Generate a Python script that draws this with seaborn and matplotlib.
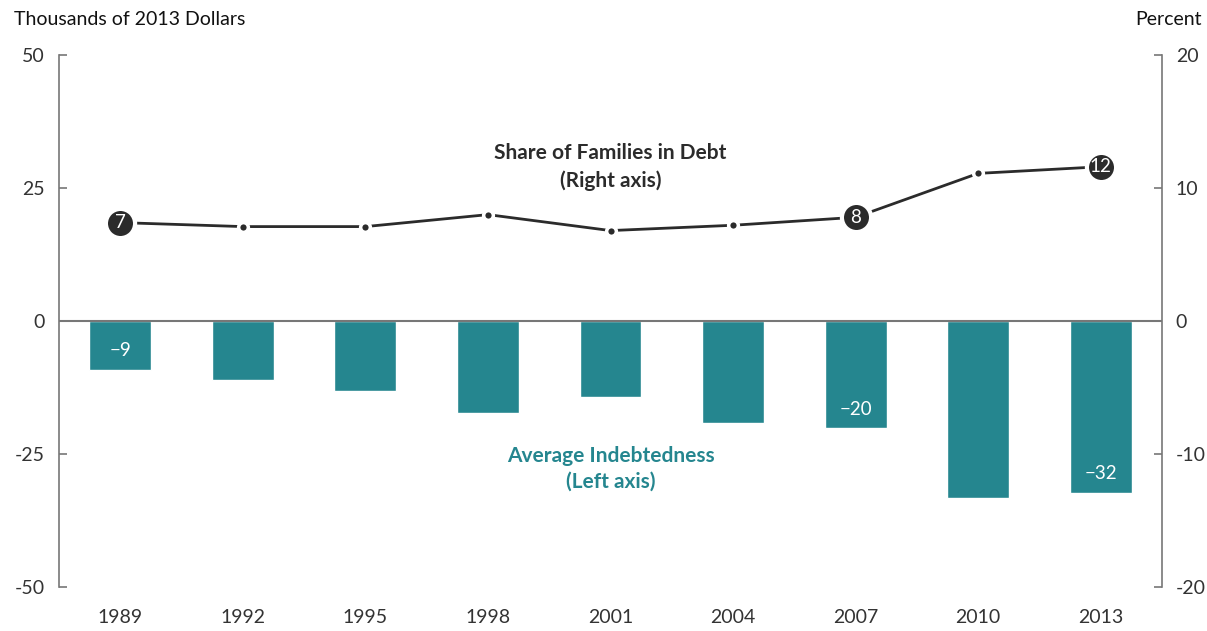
import numpy as np
import pandas as pd
import matplotlib
matplotlib.use("Agg")
import matplotlib.pyplot as plt
import seaborn as sns

# data
years = ['1989', '1992', '1995', '1998', '2001', '2004', '2007', '2010', '2013']
indebtedness = [-9.2, -11.1, -13.2, -17.2, -14.2, -19.2, -20.2, -33.2, -32.3]
share_in_debt = [7.4, 7.1, 7.1, 8.0, 6.8, 7.2, 7.8, 11.1, 11.6]
bar_labels = {0: '\u22129', 6: '\u221220', 8: '\u221232'}
point_labels = {0: '7', 6: '8', 8: '12'}

teal = '#25868f'
dark = '#2b2b2b'

sns.set_style('white')
plt.rcParams['font.family'] = ['Lato', 'DejaVu Sans']

df = pd.DataFrame({'year': years, 'value': indebtedness})

fig = plt.figure(figsize=(12.07, 6.31), dpi=100)
ax = fig.add_axes([0.0489, 0.0697, 0.9138, 0.8431])

sns.barplot(data=df, x='year', y='value', color=teal, saturation=1, width=0.505, ax=ax)
ax.set_xlim(-0.5, 8.5)
ax.set_ylim(-50, 50)
ax.set_yticks([-50, -25, 0, 25, 50])
ax.set_yticklabels(['-50', '-25', '0', '25', '50'])
ax.axhline(0, color='#777777', lw=1.5, zorder=3)
ax.set_xlabel('')
ax.set_ylabel('')

for i, t in bar_labels.items():
    ax.text(i, indebtedness[i] + 3.6, t, ha='center', va='center', color='white', fontsize=13.5)

ax2 = ax.twinx()
ax2.set_ylim(-20, 20)
ax2.set_yticks([-20, -10, 0, 10, 20])
ax2.set_yticklabels(['-20', '-10', '0', '10', '20'])
x = np.arange(len(years))
ax2.plot(x, share_in_debt, color=dark, lw=2, marker='o', ms=7,
         mfc=dark, mec='white', mew=2.5, zorder=4)
for i, t in point_labels.items():
    ax2.plot(x[i], share_in_debt[i], marker='o', ms=21, mfc=dark, mec='white', mew=3, zorder=5)
    ax2.text(x[i], share_in_debt[i], t, ha='center', va='center', color='white',
             fontsize=13.5, zorder=6)

ax2.text(4, 11.55, 'Share of Families in Debt\n(Right axis)', ha='center', va='center',
         fontsize=15, fontweight='bold', color=dark, linespacing=1.45)
ax.text(4, -27.7, 'Average Indebtedness\n(Left axis)', ha='center', va='center',
        fontsize=15, fontweight='bold', color=teal, linespacing=1.35)

for a in (ax, ax2):
    for s in a.spines.values():
        s.set_visible(False)
    a.tick_params(axis='y', direction='in', length=6, width=1.2, color='#777777',
                  labelsize=14, labelcolor='#333333', pad=10)
ax.spines['left'].set_visible(True)
ax.spines['left'].set_color('#777777')
ax.spines['left'].set_linewidth(1.2)
ax2.spines['right'].set_visible(True)
ax2.spines['right'].set_color('#777777')
ax2.spines['right'].set_linewidth(1.2)
ax.tick_params(axis='x', length=0, labelsize=14, labelcolor='#333333', pad=16)

fig.text(0.012, 0.969, 'Thousands of 2013 Dollars', ha='left', va='center', fontsize=14, color='#111111')
fig.text(0.996, 0.969, 'Percent', ha='right', va='center', fontsize=14, color='#111111')

fig.savefig('out.png', dpi=100)
